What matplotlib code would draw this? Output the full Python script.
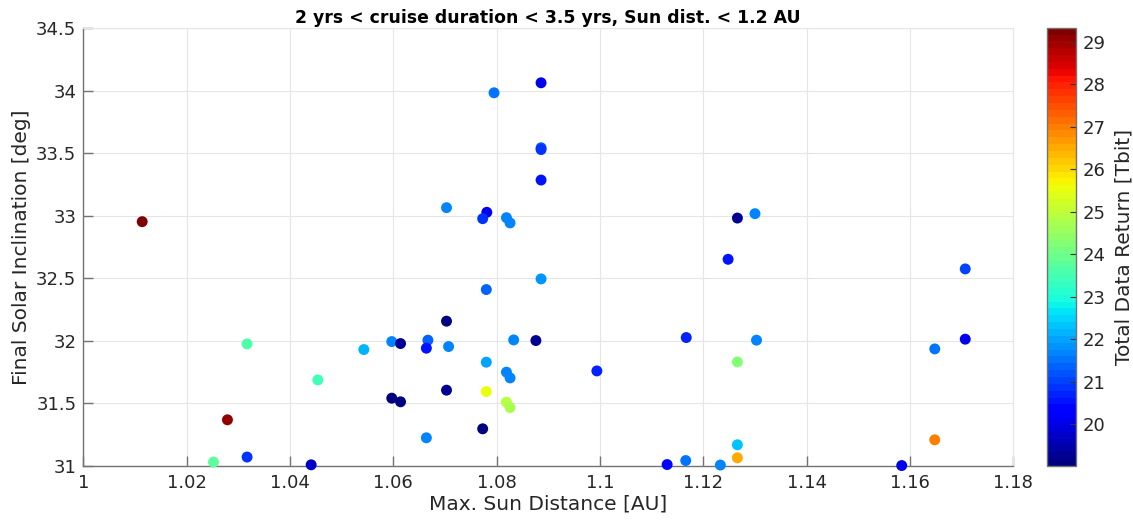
import matplotlib
matplotlib.use("Agg")
import matplotlib.pyplot as plt
import numpy as np

# Maximum Sun distance [AU] of each trajectory
sun_dist = [
    1.0114, 1.0317, 1.0454, 1.0279, 1.0252, 1.0317, 1.0441,
    1.0886, 1.0795, 1.0886, 1.0886, 1.0886, 1.0703, 1.0781,
    1.0773, 1.0819, 1.0826, 1.0886, 1.0780, 1.0703, 1.0597,
    1.0614, 1.0667, 1.0664, 1.0707, 1.0543, 1.0833, 1.0876,
    1.0780, 1.0819, 1.0826, 1.0597, 1.0614, 1.0703, 1.0780,
    1.0819, 1.0826, 1.0773, 1.0664, 1.1266, 1.1300, 1.1248,
    1.1167, 1.1303, 1.0994, 1.1266, 1.1266, 1.1266, 1.1130,
    1.1166, 1.1233, 1.1707, 1.1707, 1.1648, 1.1648, 1.1584,
]

# Final solar inclination [deg]
inclination = [
    32.953, 31.975, 31.687, 31.368, 31.030, 31.070, 31.008,
    34.064, 33.984, 33.544, 33.530, 33.286, 33.065, 33.028,
    32.977, 32.985, 32.943, 32.495, 32.410, 32.157, 31.994,
    31.978, 32.005, 31.941, 31.954, 31.930, 32.007, 32.002,
    31.829, 31.749, 31.703, 31.541, 31.512, 31.605, 31.594,
    31.509, 31.466, 31.296, 31.224, 32.982, 33.017, 32.652,
    32.026, 32.005, 31.759, 31.831, 31.168, 31.064, 31.010,
    31.042, 31.006, 32.575, 32.013, 31.935, 31.208, 31.002,
]

# Total data return [Tbit]
data_return = [
    29.33, 23.6, 23.4, 29.1, 23.7, 20.8, 19.8,
    20.0, 21.5, 21.2, 20.8, 20.6, 21.6, 20.0,
    20.8, 21.6, 21.7, 21.8, 21.3, 19.1, 21.6,
    19.2, 21.3, 20.5, 21.7, 22.1, 21.7, 19.2,
    22.0, 21.6, 21.6, 19.1, 19.02, 19.2, 25.5,
    24.9, 24.8, 19.1, 21.7, 19.3, 21.7, 20.6,
    20.7, 21.7, 20.7, 24.2, 22.3, 26.5, 20.4,
    21.5, 21.7, 21.0, 20.1, 21.5, 27.0, 20.1,
]

x_ticks = [1.0, 1.02, 1.04, 1.06, 1.08, 1.1, 1.12, 1.14, 1.16, 1.18]
x_tick_labels = ["1", "1.02", "1.04", "1.06", "1.08", "1.1", "1.12", "1.14", "1.16", "1.18"]
y_ticks = [31, 31.5, 32, 32.5, 33, 33.5, 34, 34.5]
y_tick_labels = ["31", "31.5", "32", "32.5", "33", "33.5", "34", "34.5"]
cbar_ticks = [20, 21, 22, 23, 24, 25, 26, 27, 28, 29]

plt.rcParams["font.family"] = ["DejaVu Sans"]
text_color = (0.15, 0.15, 0.15)
axis_color = (0.45, 0.45, 0.45)
grid_color = (0.9, 0.9, 0.9)

W, H = 1133, 525
fig = plt.figure(figsize=(W / 100, H / 100), dpi=100)
ax = fig.add_axes([83.3 / W, 1 - 465.8 / H, (1013.3 - 83.3) / W, (465.8 - 28.3) / H])
cax = fig.add_axes([1047 / W, 1 - 466 / H, 29 / W, (466 - 27.7) / H])

cmap = plt.get_cmap("jet", 64)
sc = ax.scatter(sun_dist, inclination, c=data_return, cmap=cmap,
                vmin=19.02, vmax=29.33, s=62, linewidths=0, zorder=3,
                clip_on=False)

ax.set_xlim(1.0, 1.18)
ax.set_ylim(31, 34.5)
ax.set_xticks(x_ticks)
ax.set_xticklabels(x_tick_labels)
ax.set_yticks(y_ticks)
ax.set_yticklabels(y_tick_labels)
ax.grid(True, color=grid_color, linewidth=0.8, zorder=0)
ax.set_axisbelow(True)

for side in ("left", "bottom"):
    ax.spines[side].set_color(axis_color)
    ax.spines[side].set_linewidth(1.0)
for side in ("top", "right"):
    ax.spines[side].set_color(grid_color)
    ax.spines[side].set_linewidth(0.8)

ax.tick_params(axis="both", direction="in", length=7, width=1.0,
               color=axis_color, labelcolor=text_color, labelsize=13)
ax.tick_params(axis="x", pad=6)
ax.tick_params(axis="y", pad=5)

ax.set_xlabel("Max. Sun Distance [AU]", fontsize=14.5, color=text_color, labelpad=2)
ax.set_ylabel("Final Solar Inclination [deg]", fontsize=14.5, color=text_color, labelpad=4)
ax.set_title("2 yrs < cruise duration < 3.5 yrs, Sun dist. < 1.2 AU",
             fontsize=12.4, fontweight="bold", color="black", pad=4)

cb = fig.colorbar(sc, cax=cax, ticks=cbar_ticks)
cb.outline.set_edgecolor(axis_color)
cb.outline.set_linewidth(1.0)
cax.tick_params(direction="in", length=4, width=0.8, color=(0.2, 0.2, 0.2),
                labelcolor=text_color, labelsize=13, pad=5)
cb.set_label("Total Data Return [Tbit]", fontsize=14.5, color=text_color, labelpad=6)

fig.savefig("out.png", dpi=100)
